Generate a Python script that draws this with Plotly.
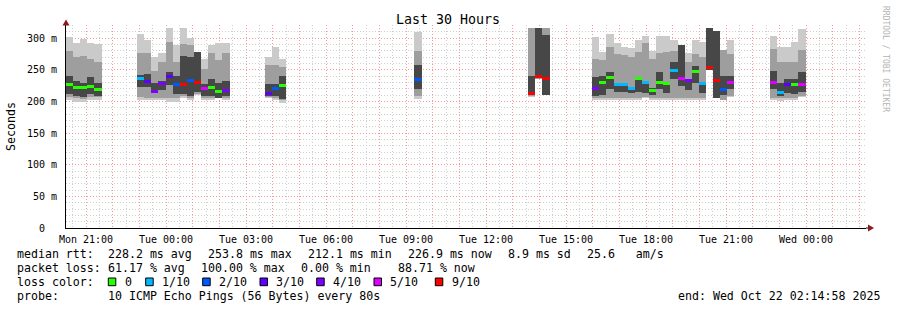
import plotly.graph_objects as go
import pandas as pd

# ---------------- data ----------------
series_start = "2025-10-20 20:15:00"   # first consolidated step
step_minutes = 16                       # consolidation step

bin_idx = [0, 1, 2, 3, 4,
           10, 11, 12, 13, 14, 15, 16, 17, 18, 19, 20, 21, 22,
           28, 29, 30,
           49,
           65, 66, 67,
           74, 75, 76, 77, 78, 79, 80, 81, 82, 83, 84, 85, 86, 87, 88, 89, 90, 91, 92, 93,
           99, 100, 101, 102, 103]

rtt_min = [203, 200, 199, 203, 203,
           203, 202, 202, 202, 200, 200, 205, 202, 210, 202, 202, 205, 202,
           205, 202, 197,
           204,
           207, 236, 211,
           203, 203, 202, 202, 202, 202, 203, 205, 203, 203, 203, 203, 203, 202, 202, 203, 250, 205, 203, 207,
           203, 201, 203, 203, 207]
rtt_max = [302, 292, 299, 292, 291,
           306, 298, 271, 277, 317, 289, 316, 300, 278, 268, 289, 293, 292,
           270, 286, 268,
           310,
           317, 317, 317,
           302, 278, 307, 293, 286, 284, 298, 304, 280, 304, 304, 297, 289, 276, 298, 294, 316, 312, 281, 297,
           303, 287, 287, 294, 315]
mid_lo = [207, 205, 204, 207, 207,
          207, 206, 206, 206, 205, 205, 208, 206, 212, 206, 206, 208, 206,
          207, 205, 202,
          208,
          209, 236, 211,
          206, 206, 205, 205, 205, 205, 206, 207, 206, 206, 206, 206, 206, 206, 206, 206, 250, 205, 203, 209,
          206, 205, 206, 206, 209]
mid_hi = [280, 270, 272, 267, 262,
          276, 276, 249, 263, 294, 262, 291, 290, 278, 252, 277, 266, 277,
          257, 257, 255,
          280,
          317, 317, 317,
          267, 265, 286, 275, 273, 270, 278, 292, 267, 277, 278, 280, 289, 262, 275, 270, 316, 312, 281, 275,
          283, 262, 262, 262, 281]
dark_lo = [212, 209, 207, 212, 209,
           223, 223, 213, 218, 226, 212, 212, 209, 215, 208, 208, 206, 208,
           208, 208, 204,
           220,
           210, 238, 211,
           209, 210, 220, 215, 215, 214, 215, 214, 210, 220, 214, 235, 225, 218, 230, 214, 250, 205, 210, 220,
           220, 208, 213, 212, 215]
dark_hi = [241, 233, 230, 238, 230,
           242, 244, 230, 233, 247, 241, 272, 270, 278, 228, 236, 230, 233,
           227, 227, 240,
           258,
           241, 317, 305,
           238, 240, 246, 230, 228, 222, 238, 230, 222, 246, 230, 262, 289, 234, 256, 228, 316, 312, 240, 240,
           248, 230, 236, 235, 246]
median = [226.8, 222.6, 221.6, 224.2, 219.5,
          235.8, 231.6, 216.3, 227.9, 240.0, 226.8, 226.4, 233.7, 230.0, 220.5, 222.0, 216.3, 217.0,
          212.0, 220.0, 226.0,
          234.7,
          212.1, 239.0, 235.8,
          220.5, 229.5, 237.9, 226.8, 226.8, 220.0, 235.8, 229.5, 217.9, 229.9, 227.9, 249.5, 235.8, 232.6,
          247.4, 228.4, 253.8, 232.6, 219.5, 230.0,
          230.5, 214.7, 226.3, 226.8, 226.9]
loss_tenths = [0, 0, 0, 0, 0,
               1, 3, 4, 4, 3, 2, 9, 2, 9, 5, 0, 0, 4,
               3, 2, 0,
               2,
               9, 9, 9,
               4, 0, 0, 1, 1, 1, 0, 1, 0, 0, 0, 1, 5, 4, 0, 1, 9, 9, 2, 5,
               5, 1, 3, 0, 5]

loss_labels = ["0", "1/10", "2/10", "3/10", "4/10", "5/10", "9/10"]
loss_levels = [0, 1, 2, 3, 4, 5, 9]
loss_colors = ["#26ff00", "#00b8ff", "#0059ff", "#5e00ff", "#7e00ff", "#dd00ff", "#ff0000"]

y_tick_vals = [0, 50, 100, 150, 200, 250, 300]
y_tick_text = ["0\u00a0\u00a0", "50 m", "100 m", "150 m", "200 m", "250 m", "300 m"]

x_label_times = ["2025-10-20 21:00", "2025-10-21 00:00", "2025-10-21 03:00", "2025-10-21 06:00",
                 "2025-10-21 09:00", "2025-10-21 12:00", "2025-10-21 15:00", "2025-10-21 18:00",
                 "2025-10-21 21:00", "2025-10-22 00:00"]
x_label_text = ["Mon 21:00", "Tue 00:00", "Tue 03:00", "Tue 06:00", "Tue 09:00",
                "Tue 12:00", "Tue 15:00", "Tue 18:00", "Tue 21:00", "Wed 00:00"]

range_start = "2025-10-20 20:14:58"
range_end = "2025-10-22 02:14:58"
y_top = 321

legend_line1 = [("median rtt:", 16), ("228.2 ms avg", 107.3), ("253.8 ms max", 207.3),
                ("212.1 ms min", 307), ("226.9 ms now", 406.5), ("8.9 ms sd", 507.3), ("25.6   am/s", 586)]
legend_line2 = [("packet loss:", 16), ("61.17 % avg", 107.3), ("100.00 % max", 200),
                ("0.00 % min", 300), ("88.71 % now", 396.7)]
probe_text = "10 ICMP Echo Pings (56 Bytes) every 80s"
end_text = "end: Wed Oct 22 02:14:58 2025"

# ---------------- geometry helpers (layout only) ----------------
W, H = 897, 310
L, R, T, B = 66, 31, 25, 82
PW, PH = W - L - R, H - T - B


def px(x):
    return (x - L) / PW


def py(y):
    return (H - B - y) / PH


FONT = "DejaVu Sans Mono"

t0 = pd.Timestamp(series_start)
step = pd.Timedelta(minutes=step_minutes)
centers = [t0 + step * i + step / 2 for i in bin_idx]
width_ms = step_minutes * 60 * 1000

color_of = dict(zip(loss_levels, loss_colors))

fig = go.Figure()


def band(lo, hi, color):
    fig.add_trace(go.Bar(x=centers, base=lo, y=[h - l for l, h in zip(lo, hi)],
                         width=width_ms, marker=dict(color=color, line=dict(width=0)),
                         hoverinfo="skip", showlegend=False))


band(rtt_min, rtt_max, "#cacaca")
band(mid_lo, mid_hi, "#9e9e9e")
band(dark_lo, dark_hi, "#474747")

med_h = 4.8
fig.add_trace(go.Bar(x=centers, base=[m - med_h / 2 for m in median], y=[med_h] * len(median),
                     width=width_ms,
                     marker=dict(color=[color_of[l] for l in loss_tenths], line=dict(width=0)),
                     hoverinfo="skip", showlegend=False))

hours = pd.date_range("2025-10-20 21:00", "2025-10-22 02:00", freq="1h")
lab = dict(zip([pd.Timestamp(t) for t in x_label_times], x_label_text))
tickvals = list(hours)
ticktext = [lab.get(h, "") for h in hours]

major_grid = "#f29a9a"
minor_grid = "#cfcfcf"

fig.update_layout(
    width=W, height=H, autosize=False,
    margin=dict(l=L, r=R, t=T, b=B),
    paper_bgcolor="white", plot_bgcolor="white",
    barmode="overlay", bargap=0,
    font=dict(family=FONT, size=10, color="#000000"),
    xaxis=dict(type="date", range=[range_start, range_end],
               tickmode="array", tickvals=tickvals, ticktext=ticktext,
               showgrid=True, gridcolor=major_grid, griddash="1px,2px", gridwidth=1,
               minor=dict(tickmode="linear", dtick=30 * 60 * 1000, tick0="2025-10-20 20:30",
                          showgrid=True, gridcolor=minor_grid, griddash="1px,2px", gridwidth=1),
               showline=True, linecolor="#000000", linewidth=1, zeroline=False,
               ticks="", ticklabelstandoff=2,
               tickfont=dict(family=FONT, size=10, color="#000000")),
    yaxis=dict(range=[0, y_top], tickmode="array", tickvals=y_tick_vals, ticktext=y_tick_text,
               showgrid=True, gridcolor=major_grid, griddash="1px,2px", gridwidth=1,
               minor=dict(tickmode="linear", dtick=10, tick0=0,
                          showgrid=True, gridcolor=minor_grid, griddash="1px,2px", gridwidth=1),
               showline=True, linecolor="#000000", linewidth=1, zeroline=False,
               ticks="", ticklabelstandoff=6,
               tickfont=dict(family=FONT, size=10, color="#000000")),
)

ann = []


def text(s, x, y, size=11.6, xanchor="left", color="#000000", angle=0):
    ann.append(dict(text=s, x=px(x), y=py(y), xref="paper", yref="paper", showarrow=False,
                    xanchor=xanchor, yanchor="middle", borderpad=0, textangle=angle,
                    font=dict(family=FONT, size=size, color=color)))


text("Last 30 Hours", 448, 19.5, size=13.3, xanchor="center")
text("Seconds", 11, 126, size=11.6, xanchor="center", angle=-90)
text("RRDTOOL / TOBI OETIKER", 886, 59, size=8, xanchor="center", color="#b4b4b4", angle=90)

for s, x in legend_line1:
    text(s, x, 254)
for s, x in legend_line2:
    text(s, x, 268)
text("loss color:", 16, 282)
text("probe:", 16, 296)
text(probe_text, 107.3, 296)
text(end_text, 880.5, 296, xanchor="right")

shapes = []
box_x = [108.3, 145.7, 202.7, 260, 316.7, 374, 435.3]
for bx, lbl, col in zip(box_x, loss_labels, loss_colors):
    shapes.append(dict(type="rect", xref="paper", yref="paper",
                       x0=px(bx), x1=px(bx + 7.5), y0=py(285.7), y1=py(278),
                       fillcolor=col, line=dict(color="#000000", width=1)))
    text(lbl, bx + 15.2, 282)

arrow_col = "#8b1c1c"
shapes.append(dict(type="path", xref="paper", yref="paper",
                   path=f"M {px(62.5)} {py(25.5)} L {px(66)} {py(19.5)} L {px(69.5)} {py(25.5)} Z",
                   fillcolor=arrow_col, line=dict(color=arrow_col, width=0)))
shapes.append(dict(type="line", xref="paper", yref="paper", x0=px(866), x1=px(869),
                   y0=py(228), y1=py(228), line=dict(color="#000000", width=1)))
shapes.append(dict(type="path", xref="paper", yref="paper",
                   path=f"M {px(868)} {py(224.5)} L {px(874)} {py(228)} L {px(868)} {py(231.5)} Z",
                   fillcolor=arrow_col, line=dict(color=arrow_col, width=0)))

fig.update_layout(annotations=ann, shapes=shapes)
fig.write_html("out.html")
